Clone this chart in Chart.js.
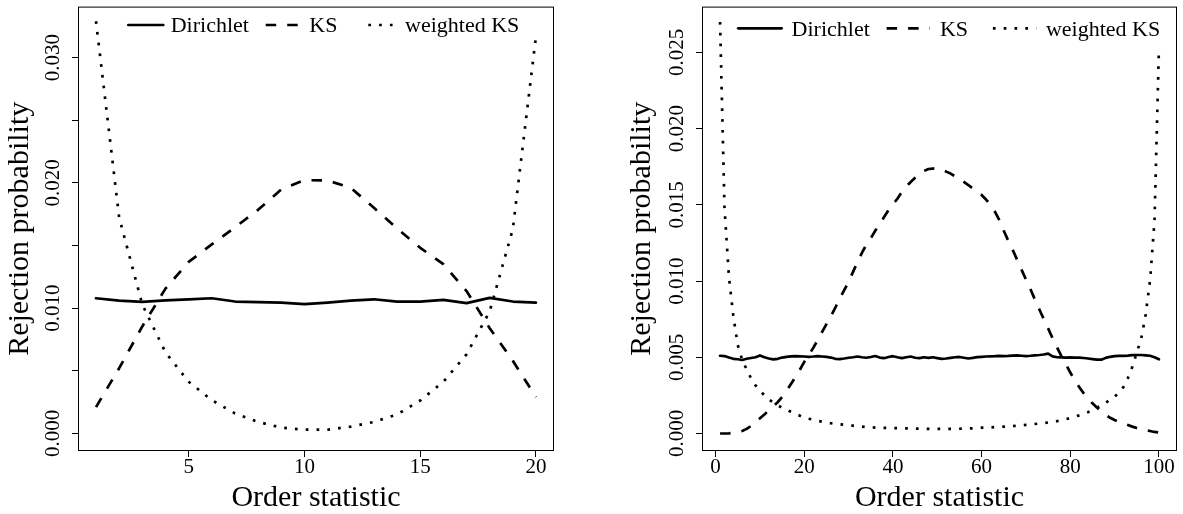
<!DOCTYPE html>
<html>
<head>
<meta charset="utf-8">
<script src="https://cdn.jsdelivr.net/npm/chart.js@4.4.1/dist/chart.umd.min.js"></script>
<style>
  html, body { margin: 0; padding: 0; background: #fff; }
  #wrap { position: relative; width: 1183px; height: 514px; }
  canvas { position: absolute; top: 0; }
</style>
</head>
<body>
<div id="wrap">
  <canvas id="left" width="591" height="514" style="left:0"></canvas>
  <canvas id="right" width="592" height="514" style="left:591px"></canvas>
</div>
<script>
/* ---------- data: left panel (n = 20) ---------- */
const orderLeft = [1,2,3,4,5,6,7,8,9,10,11,12,13,14,15,16,17,18,19,20];
const dirichletLeft = [0.01079,0.01061,0.01050,0.01063,0.01071,0.01079,0.01053,0.01048,0.01045,0.01032,
                       0.01045,0.01061,0.01071,0.01053,0.01053,0.01066,0.01040,0.01082,0.01053,0.01045];
const ksLeft = [0.00210,0.00521,0.00855,0.01156,0.01369,0.01509,0.01645,0.01785,0.01948,0.02022,
                0.02019,0.01961,0.01801,0.01637,0.01482,0.01351,0.01137,0.00840,0.00580,0.00290];
const wksLeft = [0.03290,0.01724,0.01029,0.00647,0.00413,0.00266,0.00160,0.00092,0.00047,0.00030,
                 0.00030,0.00055,0.00092,0.00152,0.00263,0.00413,0.00632,0.00974,0.01632,0.03172];
const xTicksLeft = [5, 10, 15, 20];
const yTicksLeft = [0, 0.005, 0.010, 0.015, 0.020, 0.025, 0.030];
const yLabelsLeft = ["0.000", "", "0.010", "", "0.020", "", "0.030"];

/* ---------- data: right panel (n = 100) ---------- */
const orderRight = [1,2,3,4,5,6,7,8,9,10,11,12,13,14,15,16,17,18,19,20,
  21,22,23,24,25,26,27,28,29,30,31,32,33,34,35,36,37,38,39,40,
  41,42,43,44,45,46,47,48,49,50,51,52,53,54,55,56,57,58,59,60,
  61,62,63,64,65,66,67,68,69,70,71,72,73,74,75,76,77,78,79,80,
  81,82,83,84,85,86,87,88,89,90,91,92,93,94,95,96,97,98,99,100];
const dirichletRight = [0.00510,0.00508,0.00498,0.00490,0.00487,0.00482,0.00490,0.00495,0.00500,0.00512,
  0.00500,0.00492,0.00486,0.00490,0.00498,0.00502,0.00506,0.00507,0.00506,0.00505,
  0.00503,0.00505,0.00508,0.00505,0.00502,0.00498,0.00490,0.00488,0.00492,0.00497,
  0.00500,0.00505,0.00500,0.00497,0.00502,0.00508,0.00498,0.00494,0.00502,0.00507,
  0.00500,0.00494,0.00500,0.00505,0.00497,0.00494,0.00500,0.00496,0.00500,0.00494,
  0.00490,0.00492,0.00496,0.00500,0.00502,0.00497,0.00492,0.00496,0.00501,0.00503,
  0.00505,0.00506,0.00507,0.00509,0.00508,0.00509,0.00511,0.00512,0.00510,0.00508,
  0.00510,0.00513,0.00515,0.00518,0.00524,0.00506,0.00500,0.00499,0.00498,0.00499,
  0.00498,0.00498,0.00495,0.00492,0.00488,0.00484,0.00484,0.00496,0.00503,0.00508,
  0.00509,0.00509,0.00511,0.00514,0.00515,0.00515,0.00513,0.00510,0.00500,0.00487];
const ksRight = [0.00000,0.00000,0.00001,0.00004,0.00008,0.00016,0.00030,0.00050,0.00074,0.00100,
  0.00125,0.00150,0.00178,0.00205,0.00240,0.00280,0.00325,0.00370,0.00418,0.00470,
  0.00515,0.00560,0.00612,0.00665,0.00718,0.00770,0.00825,0.00885,0.00940,0.00995,
  0.01060,0.01125,0.01185,0.01240,0.01280,0.01330,0.01375,0.01420,0.01465,0.01505,
  0.01540,0.01585,0.01620,0.01650,0.01678,0.01700,0.01722,0.01735,0.01738,0.01740,
  0.01730,0.01718,0.01705,0.01688,0.01668,0.01650,0.01630,0.01608,0.01585,0.01565,
  0.01535,0.01500,0.01455,0.01400,0.01330,0.01265,0.01205,0.01140,0.01075,0.01010,
  0.00948,0.00880,0.00815,0.00752,0.00690,0.00625,0.00565,0.00508,0.00455,0.00400,
  0.00350,0.00305,0.00265,0.00230,0.00198,0.00170,0.00145,0.00122,0.00103,0.00088,
  0.00075,0.00065,0.00055,0.00045,0.00036,0.00028,0.00022,0.00016,0.00010,0.00006];
const wksRight = [0.02700,0.01482,0.01028,0.00768,0.00580,0.00482,0.00420,0.00361,0.00316,0.00281,
  0.00250,0.00223,0.00203,0.00185,0.00169,0.00155,0.00142,0.00130,0.00117,0.00104,
  0.00097,0.00090,0.00083,0.00077,0.00071,0.00067,0.00063,0.00060,0.00057,0.00054,
  0.00051,0.00048,0.00045,0.00042,0.00040,0.00039,0.00038,0.00037,0.00036,0.00036,
  0.00035,0.00034,0.00033,0.00033,0.00032,0.00031,0.00031,0.00030,0.00030,0.00030,
  0.00030,0.00030,0.00030,0.00031,0.00031,0.00032,0.00033,0.00034,0.00036,0.00038,
  0.00039,0.00040,0.00042,0.00043,0.00045,0.00047,0.00049,0.00051,0.00053,0.00056,
  0.00059,0.00062,0.00065,0.00068,0.00072,0.00076,0.00081,0.00087,0.00094,0.00101,
  0.00110,0.00119,0.00129,0.00140,0.00156,0.00169,0.00184,0.00201,0.00223,0.00240,
  0.00270,0.00305,0.00364,0.00437,0.00530,0.00623,0.00779,0.01006,0.01396,0.02530];
const xTicksRight = [0, 20, 40, 60, 80, 100];
const yTicksRight = [0, 0.005, 0.010, 0.015, 0.020, 0.025];
const yLabelsRight = ["0.000", "0.005", "0.010", "0.015", "0.020", "0.025"];

/* ---------- styling ---------- */
const SERIF = "'Liberation Serif', 'Times New Roman', serif";
const seriesStyle = [
  { label: "Dirichlet",   dash: [],          cap: "round" },
  { label: "KS",          dash: [10.5, 11],  cap: "butt" },
  { label: "weighted KS", dash: [2.7, 8.1],  cap: "butt" },
];

// box round the plot region, like R's box()
const framePlugin = {
  id: "frame",
  afterDraw(chart) {
    const { ctx, chartArea: a } = chart;
    ctx.save();
    ctx.strokeStyle = "#000";
    ctx.lineWidth = 1;
    ctx.strokeRect(a.left, a.top, a.right - a.left, a.bottom - a.top);
    ctx.restore();
  }
};

// horizontal legend drawn inside the plot region
const legendPlugin = {
  id: "rlegend",
  afterDraw(chart, args, opts) {
    const { ctx, chartArea: a } = chart;
    ctx.save();
    ctx.font = `22px ${SERIF}`;
    ctx.fillStyle = "#000";
    ctx.strokeStyle = "#000";
    ctx.textAlign = "left";
    ctx.textBaseline = "alphabetic";
    chart.data.datasets.forEach((ds, i) => {
      const it = opts.items[i];
      ctx.lineWidth = ds.borderWidth;
      ctx.lineCap = ds.borderCapStyle;
      ctx.setLineDash(ds.borderDash);
      ctx.beginPath();
      ctx.moveTo(a.left + it[0], opts.lineY);
      ctx.lineTo(a.left + it[1], opts.lineY);
      ctx.stroke();
      ctx.setLineDash([]);
      ctx.fillText(ds.label, a.left + it[2], opts.textY);
    });
    ctx.restore();
  }
};

function axisGrid() {
  return { drawOnChartArea: false, drawTicks: true, tickLength: 6.5, tickColor: "#000", lineWidth: 1 };
}

function makeChart(id, p) {
  return new Chart(document.getElementById(id), {
    type: "line",
    data: {
      datasets: p.series.map((ys, i) => ({
        label: seriesStyle[i].label,
        data: ys.map((y, k) => ({ x: p.order[k], y })),
        borderColor: "#000",
        borderWidth: 2.7,
        borderDash: seriesStyle[i].dash,
        borderCapStyle: seriesStyle[i].cap,
        borderJoinStyle: "round",
        pointRadius: 0,
        tension: 0,
        fill: false,
      }))
    },
    options: {
      responsive: false, animation: false, devicePixelRatio: 1,
      layout: { padding: p.pad },
      plugins: { legend: { display: false }, tooltip: { enabled: false }, rlegend: p.legend },
      scales: {
        x: {
          type: "linear", bounds: "data", min: p.xMin, max: p.xMax,
          afterBuildTicks: s => { s.ticks = p.xTicks.map(v => ({ value: v })); },
          afterFit: s => { s.height = 63.5; },
          grid: axisGrid(),
          border: { display: false },
          ticks: { color: "#000", font: { family: SERIF, size: 21 }, padding: -1.7,
                   maxRotation: 0, autoSkip: false, callback: v => String(v) },
          title: { display: true, text: "Order statistic", color: "#000",
                   font: { family: SERIF, size: 30 }, padding: { top: 0, bottom: -2 } }
        },
        y: {
          type: "linear", bounds: "data", min: p.yMin, max: p.yMax,
          afterBuildTicks: s => { s.ticks = p.yTicks.map(v => ({ value: v })); },
          afterFit: s => { s.width = p.yWidth; },
          grid: axisGrid(),
          border: { display: false },
          ticks: { color: "#000", font: { family: SERIF, size: 21 }, padding: -5.5,
                   minRotation: 90, maxRotation: 90, crossAlign: "center", autoSkip: false,
                   callback: (v, i) => p.yLabels[i] },
          title: { display: true, text: "Rejection probability", color: "#000",
                   font: { family: SERIF, size: 30 }, padding: { top: p.yTitlePad, bottom: 0 } }
        }
      }
    },
    plugins: [framePlugin, legendPlugin]
  });
}

makeChart("left", {
  order: orderLeft,
  series: [dirichletLeft, ksLeft, wksLeft],
  xMin: 0.2443, xMax: 20.7557, xTicks: xTicksLeft,
  yMin: -0.0013586, yMax: 0.034028, yTicks: yTicksLeft, yLabels: yLabelsLeft,
  pad: { top: 2.5, right: 37.5, left: 0, bottom: 0 },
  yWidth: 78.5, yTitlePad: 1.8,
  legend: { items: [[49.8, 84.8, 92.2], [187.2, 222.2, 230.8], [289.8, 316, 326.5]], lineY: 25, textY: 31.7 }
});

makeChart("right", {
  order: orderRight,
  series: [dirichletRight, ksRight, wksRight],
  xMin: -2.96, xMax: 103.96, xTicks: xTicksRight,
  yMin: -0.0011169, yMax: 0.027974, yTicks: yTicksRight, yLabels: yLabelsRight,
  pad: { top: 2.5, right: 6.5, left: 0, bottom: 0 },
  yWidth: 111.5, yTitlePad: 33.3,
  legend: { items: [[35.7, 79.1, 89.1], [184.1, 227.5, 237.4], [290.4, 333.8, 343.4]], lineY: 28.3, textY: 35.5 }
});
</script>
</body>
</html>
